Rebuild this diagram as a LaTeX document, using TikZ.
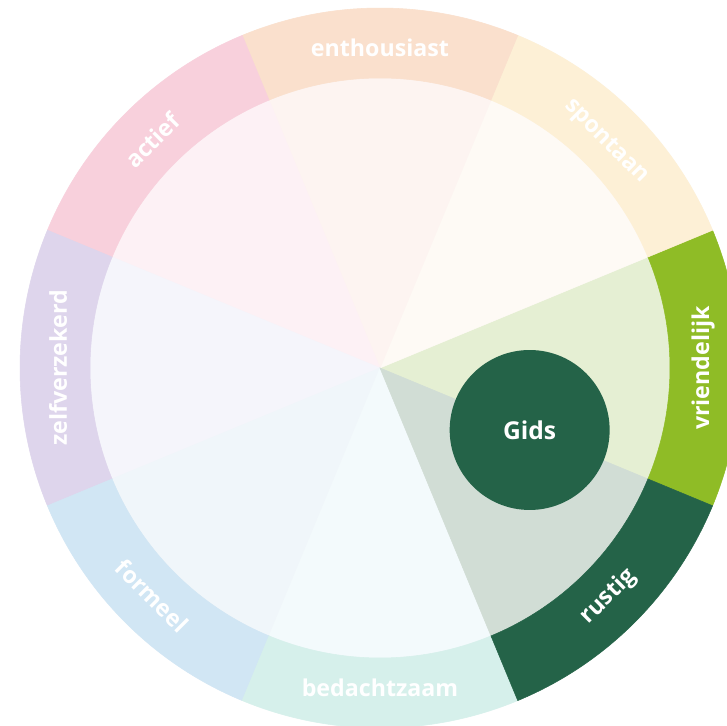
\documentclass[tikz,border=0pt]{standalone}
\usepackage{fontspec}
\setmainfont{Open Sans}
\definecolor{enthring}{RGB}{250,224,205}
\definecolor{enthin}{RGB}{253,244,241}
\definecolor{spontring}{RGB}{253,240,214}
\definecolor{spontin}{RGB}{254,250,245}
\definecolor{vriendring}{RGB}{143,188,38}
\definecolor{vriendin}{RGB}{229,239,211}
\definecolor{rustring}{RGB}{36,99,72}
\definecolor{rustin}{RGB}{209,221,213}
\definecolor{bedring}{RGB}{214,240,235}
\definecolor{bedin}{RGB}{243,250,252}
\definecolor{formring}{RGB}{209,230,244}
\definecolor{formin}{RGB}{240,246,250}
\definecolor{zelfring}{RGB}{222,213,236}
\definecolor{zelfin}{RGB}{245,245,251}
\definecolor{actring}{RGB}{248,208,220}
\definecolor{actin}{RGB}{253,241,245}
\tikzstyle{part} = [line width=0.3pt]
\tikzstyle{ringword} = [inner sep=0pt, text=white, font=\bfseries\fontsize{13.2}{15}\selectfont]
\tikzstyle{gids} = [circle, minimum size=3.2cm, inner sep=0pt, fill=rustring, text=white, font=\bfseries\fontsize{14}{16}\selectfont]

\begin{document}
\begin{tikzpicture}
				[x=0.02cm, y=0.02cm]

				\fill[white] (-380,-358) rectangle (347,368);
				\clip (-380,-358) rectangle (347,368);
				\useasboundingbox (-380,-358) rectangle (347,368);

				% inner wedges
				\filldraw[part, fill=vriendin, draw=vriendin] (0,0) -- (-22.5:290) arc[start angle=-22.5, end angle=22.5, radius=290] -- cycle;
				\filldraw[part, fill=spontin, draw=spontin] (0,0) -- (22.5:290) arc[start angle=22.5, end angle=67.5, radius=290] -- cycle;
				\filldraw[part, fill=enthin, draw=enthin] (0,0) -- (67.5:290) arc[start angle=67.5, end angle=112.5, radius=290] -- cycle;
				\filldraw[part, fill=actin, draw=actin] (0,0) -- (112.5:290) arc[start angle=112.5, end angle=157.5, radius=290] -- cycle;
				\filldraw[part, fill=zelfin, draw=zelfin] (0,0) -- (157.5:290) arc[start angle=157.5, end angle=202.5, radius=290] -- cycle;
				\filldraw[part, fill=formin, draw=formin] (0,0) -- (202.5:290) arc[start angle=202.5, end angle=247.5, radius=290] -- cycle;
				\filldraw[part, fill=bedin, draw=bedin] (0,0) -- (247.5:290) arc[start angle=247.5, end angle=292.5, radius=290] -- cycle;
				\filldraw[part, fill=rustin, draw=rustin] (0,0) -- (292.5:290) arc[start angle=292.5, end angle=337.5, radius=290] -- cycle;

				% outer ring
				\filldraw[part, fill=vriendring, draw=vriendring] (-22.5:290) arc[start angle=-22.5, end angle=22.5, radius=290] -- (22.5:360) arc[start angle=22.5, end angle=-22.5, radius=360] -- cycle;
				\filldraw[part, fill=spontring, draw=spontring] (22.5:290) arc[start angle=22.5, end angle=67.5, radius=290] -- (67.5:360) arc[start angle=67.5, end angle=22.5, radius=360] -- cycle;
				\filldraw[part, fill=enthring, draw=enthring] (67.5:290) arc[start angle=67.5, end angle=112.5, radius=290] -- (112.5:360) arc[start angle=112.5, end angle=67.5, radius=360] -- cycle;
				\filldraw[part, fill=actring, draw=actring] (112.5:290) arc[start angle=112.5, end angle=157.5, radius=290] -- (157.5:360) arc[start angle=157.5, end angle=112.5, radius=360] -- cycle;
				\filldraw[part, fill=zelfring, draw=zelfring] (157.5:290) arc[start angle=157.5, end angle=202.5, radius=290] -- (202.5:360) arc[start angle=202.5, end angle=157.5, radius=360] -- cycle;
				\filldraw[part, fill=formring, draw=formring] (202.5:290) arc[start angle=202.5, end angle=247.5, radius=290] -- (247.5:360) arc[start angle=247.5, end angle=202.5, radius=360] -- cycle;
				\filldraw[part, fill=bedring, draw=bedring] (247.5:290) arc[start angle=247.5, end angle=292.5, radius=290] -- (292.5:360) arc[start angle=292.5, end angle=247.5, radius=360] -- cycle;
				\filldraw[part, fill=rustring, draw=rustring] (292.5:290) arc[start angle=292.5, end angle=337.5, radius=290] -- (337.5:360) arc[start angle=337.5, end angle=292.5, radius=360] -- cycle;

				% ring words
				\node (vriendelijk) [ringword, rotate=90] at (0:323) {vriendelijk};
				\node (spontaan) [ringword, rotate=-45] at (45:320) {spontaan};
				\node (enthousiast) [ringword] at (90:320) {enthousiast};
				\node (actief) [ringword, rotate=45] at (135:322) {actief};
				\node (zelfverzekerd) [ringword, rotate=90] at (180:322) {zelfverzekerd};
				\node (formeel) [ringword, rotate=-45] at (225:322) {formeel};
				\node (bedachtzaam) [ringword] at (270:320) {bedachtzaam};
				\node (rustig) [ringword, rotate=45] at (315:323) {rustig};

				\node (gids) [gids] at (-22.5:162) {Gids};
			\end{tikzpicture}
\end{document}
